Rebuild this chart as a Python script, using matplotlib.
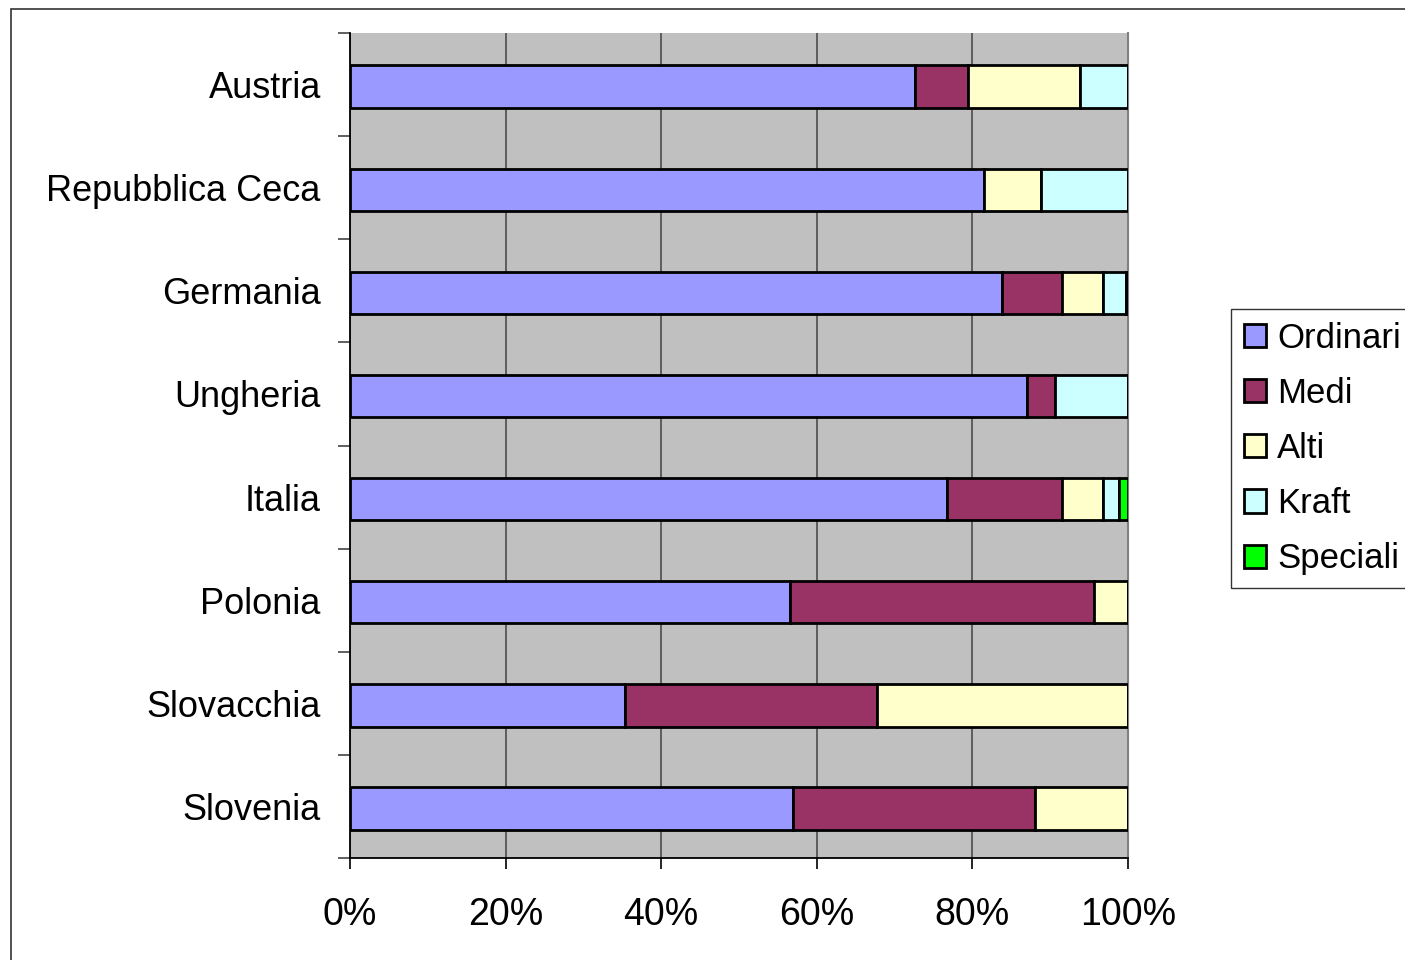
import matplotlib
matplotlib.use("Agg")
import matplotlib.pyplot as plt
from matplotlib.patches import Rectangle
import numpy as np

plt.rcParams['font.family'] = ['Liberation Sans', 'DejaVu Sans']

countries = ["Austria", "Repubblica Ceca", "Germania", "Ungheria", "Italia",
             "Polonia", "Slovacchia", "Slovenia"]
series_names = ["Ordinari", "Medi", "Alti", "Kraft", "Speciali"]
ordinari = [72.6, 81.5, 83.8, 87.0, 76.7, 56.5, 35.3, 57.0]
medi     = [6.8, 0.0, 7.7, 3.6, 14.8, 39.1, 32.4, 31.0]
alti     = [14.4, 7.3, 5.3, 0.0, 5.3, 4.4, 32.3, 12.0]
kraft    = [6.2, 11.2, 2.9, 9.4, 2.0, 0.0, 0.0, 0.0]
speciali = [0.0, 0.0, 0.3, 0.0, 1.2, 0.0, 0.0, 0.0]
colors = ["#9999FF", "#993366", "#FFFFCC", "#CCFFFF", "#00FF00"]
xtick_vals = [0, 20, 40, 60, 80, 100]
xtick_labels = ["0%", "20%", "40%", "60%", "80%", "100%"]

W, H = 1405, 960
fig = plt.figure(figsize=(W / 100, H / 100), dpi=100)
fig.patches.append(Rectangle((11 / W, -0.05), 1.1, 1 - 9 / H + 0.05,
                             transform=fig.transFigure, fill=False,
                             edgecolor="#333333", linewidth=1.2))

ax = fig.add_axes([350 / W, 1 - 858 / H, 778 / W, 825 / H])
ax.set_facecolor("#C0C0C0")

y = np.arange(len(countries))
data = [ordinari, medi, alti, kraft, speciali]
left = np.zeros(len(countries))
handles = []
for name, vals, c in zip(series_names, data, colors):
    vals = np.array(vals)
    h = ax.barh(y + 0.02, vals, left=left, height=0.41, color=c, edgecolor="black",
                linewidth=2.0, label=name, zorder=3)
    handles.append(h)
    left = left + vals

ax.set_xlim(0, 100)
ax.set_ylim(len(countries) - 0.5, -0.5)

ax.set_xticks(xtick_vals)
ax.set_xticklabels(xtick_labels, fontsize=27)
ax.tick_params(axis="x", direction="out", length=8, width=1.2, pad=20, colors="black")

ax.set_yticks(np.arange(-0.5, len(countries), 1.0))
ax.set_yticklabels([])
ax.set_yticks(y, minor=True)
ax.set_yticklabels(countries, minor=True, fontsize=26)
ax.tick_params(axis="y", which="major", direction="out", length=9, width=1.2, color="#444444")
ax.tick_params(axis="y", which="minor", length=0, pad=21)

ax.xaxis.grid(True, color="#555555", linewidth=1.3, zorder=1)
ax.yaxis.grid(False)
ax.set_axisbelow(True)

ax.spines["top"].set_visible(False)
ax.spines["right"].set_color("#808080")
ax.spines["right"].set_linewidth(1.5)
ax.spines["left"].set_color("black")
ax.spines["left"].set_linewidth(1.3)
ax.spines["bottom"].set_color("black")
ax.spines["bottom"].set_linewidth(1.3)

leg = fig.legend(handles=handles, labels=series_names, loc="upper left",
                 bbox_to_anchor=(1231 / W, 1 - 309 / H), fontsize=25,
                 frameon=True, fancybox=False, handlelength=0.65, handleheight=0.65,
                 handletextpad=0.32, labelspacing=0.64, borderpad=0.36,
                 borderaxespad=0)
leg.get_frame().set_edgecolor("black")
leg.get_frame().set_linewidth(1.0)

fig.savefig("out.png", dpi=100)
